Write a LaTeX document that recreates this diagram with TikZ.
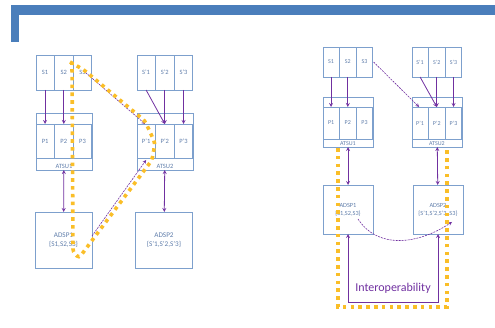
\documentclass[tikz,border=0pt]{standalone}
\usepackage{fontspec}
\setmainfont{Carlito}
\usepackage{tikz}
\usetikzlibrary{positioning}

\definecolor{framebl}{RGB}{74,126,187}
\definecolor{boxbl}{RGB}{125,160,205}
\definecolor{txtbl}{RGB}{95,125,170}
\definecolor{linkpur}{RGB}{112,48,160}
\definecolor{dotyel}{RGB}{250,190,40}

\begin{document}
\begin{tikzpicture}[
  x=1pt, y=1pt,
  every node/.style={inner sep=0pt, outer sep=0pt, text=txtbl, font=\fontsize{6.5}{7.5}\selectfont},
  unit/.style={draw=boxbl, line width=0.7pt, align=center},
  lsbox/.style={unit, minimum width=18.2pt, minimum height=35pt},
  lpbox/.style={unit, minimum width=18.2pt, minimum height=34pt},
  rsbox/.style={unit, minimum width=16.2pt, minimum height=30pt, font=\fontsize{6}{7}\selectfont},
  rpbox/.style={unit, minimum width=16.2pt, minimum height=32pt, font=\fontsize{6}{7}\selectfont},
  arrow/.style={->, draw=linkpur, line width=0.8pt, >=stealth},
  twoway/.style={<->, draw=linkpur, line width=0.8pt, >=stealth},
  dasharrow/.style={->, draw=linkpur, line width=0.6pt, dashed, dash pattern=on 2pt off 1pt, >=stealth},
  highlight/.style={draw=dotyel, line width=3.6pt, dash pattern=on 3.6pt off 4.2pt}
]
\useasboundingbox (0,0) rectangle (495,-328);

% frame
\fill[framebl] (11,-5) rectangle (495,-15);
\fill[framebl] (11,-5) rectangle (19,-42);

% left diagram
\node[lsbox] (s1) at (45.1,-72.5) {S1};
\node[lsbox, right=0.5pt of s1] (s2) {S2};
\node[lsbox, right=0.5pt of s2] (s3) {S3};
\node[lsbox] (sp1) at (146.1,-72.5) {S'1};
\node[lsbox, right=0.5pt of sp1] (sp2) {S'2};
\node[lsbox, right=0.5pt of sp2] (sp3) {S'3};

\node[unit, minimum width=56pt, minimum height=57pt] (atsu1) at (64,-141.5) {};
\node[lpbox] (p1) at (45.1,-141) {P1};
\node[lpbox, right=0.5pt of p1] (p2) {P2};
\node[lpbox, right=0.5pt of p2] (p3) {P3};
\node[above=1.5pt of atsu1.south] (atsu1lbl) {ATSU1};

\node[unit, minimum width=56pt, minimum height=57pt] (atsu2) at (165,-141.5) {};
\node[lpbox] (pp1) at (146.1,-141) {P'1};
\node[lpbox, right=0.5pt of pp1] (pp2) {P'2};
\node[lpbox, right=0.5pt of pp2] (pp3) {P'3};
\node[above=1.5pt of atsu2.south] (atsu2lbl) {ATSU2};

\node[unit, minimum width=57pt, minimum height=56pt, font=\fontsize{7.2}{9}\selectfont] (adsp1) at (63.5,-240) {ADSP1\\\{S1,S2,S3\}};
\node[unit, minimum width=57pt, minimum height=56pt, font=\fontsize{7.2}{9}\selectfont] (adsp2) at (164,-240) {ADSP2\\\{S'1,S'2,S'3\}};

\draw[arrow] (s1) -- (p1);
\draw[arrow] (s2) -- (p2);
\draw[arrow] (sp1.south) -- (pp2.north);
\draw[arrow] (sp2) -- (pp2);
\draw[arrow] (sp3) -- (pp3);
\draw[dasharrow] ([xshift=3pt]s3.center) -- ([xshift=-1pt]pp1.north);
\draw[twoway] (atsu1) -- (adsp1);
\draw[twoway] (atsu2) -- (adsp2);
\draw[dasharrow] ([yshift=4pt]adsp1.east) -- ([yshift=-2pt]pp1.south);

% left highlight
\draw[highlight, rounded corners=3pt] (70,-62) -- (84,-70) -- (145,-121) -- (155,-143) -- (152,-160)
  -- (79,-258) -- (73,-252) -- (72,-62);

% right diagram
\node[rsbox] (rs1) at (331.1,-62) {S1};
\node[rsbox, right=0.5pt of rs1] (rs2) {S2};
\node[rsbox, right=0.5pt of rs2] (rs3) {S3};
\node[rsbox] (rsp1) at (420.1,-62) {S'1};
\node[rsbox, right=0.5pt of rsp1] (rsp2) {S'2};
\node[rsbox, right=0.5pt of rsp2] (rsp3) {S'3};

\node[unit, minimum width=50pt, minimum height=50pt] (ratsu1) at (348,-122) {};
\node[rpbox] (rp1) at (331.1,-123) {P1};
\node[rpbox, right=0.5pt of rp1] (rp2) {P2};
\node[rpbox, right=0.5pt of rp2] (rp3) {P3};
\node[above=1pt of ratsu1.south, font=\fontsize{6}{7}\selectfont] (ratsu1lbl) {ATSU1};

\node[unit, minimum width=50pt, minimum height=50pt] (ratsu2) at (437,-122) {};
\node[rpbox] (rpp1) at (420.1,-123) {P'1};
\node[rpbox, right=0.5pt of rpp1] (rpp2) {P'2};
\node[rpbox, right=0.5pt of rpp2] (rpp3) {P'3};
\node[above=1pt of ratsu2.south, font=\fontsize{6}{7}\selectfont] (ratsu2lbl) {ATSU2};

\node[unit, minimum width=50pt, minimum height=49pt, font=\fontsize{6.3}{8}\selectfont] (radsp1) at (348,-209.5) {ADSP1\\\{S1,S2,S3\}};
\node[unit, minimum width=50pt, minimum height=49pt, font=\fontsize{6.3}{8}\selectfont] (radsp2) at (438,-209.5) {ADSP2\\\{S'1,S'2,S'3, S3\}};

\draw[arrow] (rs1) -- (rp1);
\draw[arrow] (rs2) -- (rp2);
\draw[arrow] (rsp1.south) -- (rpp2.north);
\draw[arrow] (rsp2) -- (rpp2);
\draw[arrow] (rsp3) -- (rpp3);
\draw[dasharrow] ([xshift=1pt]rs3.east) -- ([xshift=-1pt]rpp1.north);
\draw[twoway] (ratsu1) -- (radsp1);
\draw[twoway] (ratsu2) -- (radsp2);
\draw[dasharrow] ([shift={(10pt,-9.5pt)}]radsp1.center) .. controls ([shift={(30pt,-40pt)}]radsp1.center)
  and ([shift={(-20pt,-35pt)}]radsp2.center) .. ([shift={(14pt,-12.5pt)}]radsp2.center);
\draw[twoway] (radsp1.south) -- ++(0,-68) -| (radsp2.south);
\node[text=linkpur, font=\fontsize{12}{14}\selectfont] (interop) at (393,-288) {Interoperability};

% right highlight
\draw[highlight] (338,-148) -- (338,-307) -- (447,-307) -- (447,-148);
\end{tikzpicture}
\end{document}
